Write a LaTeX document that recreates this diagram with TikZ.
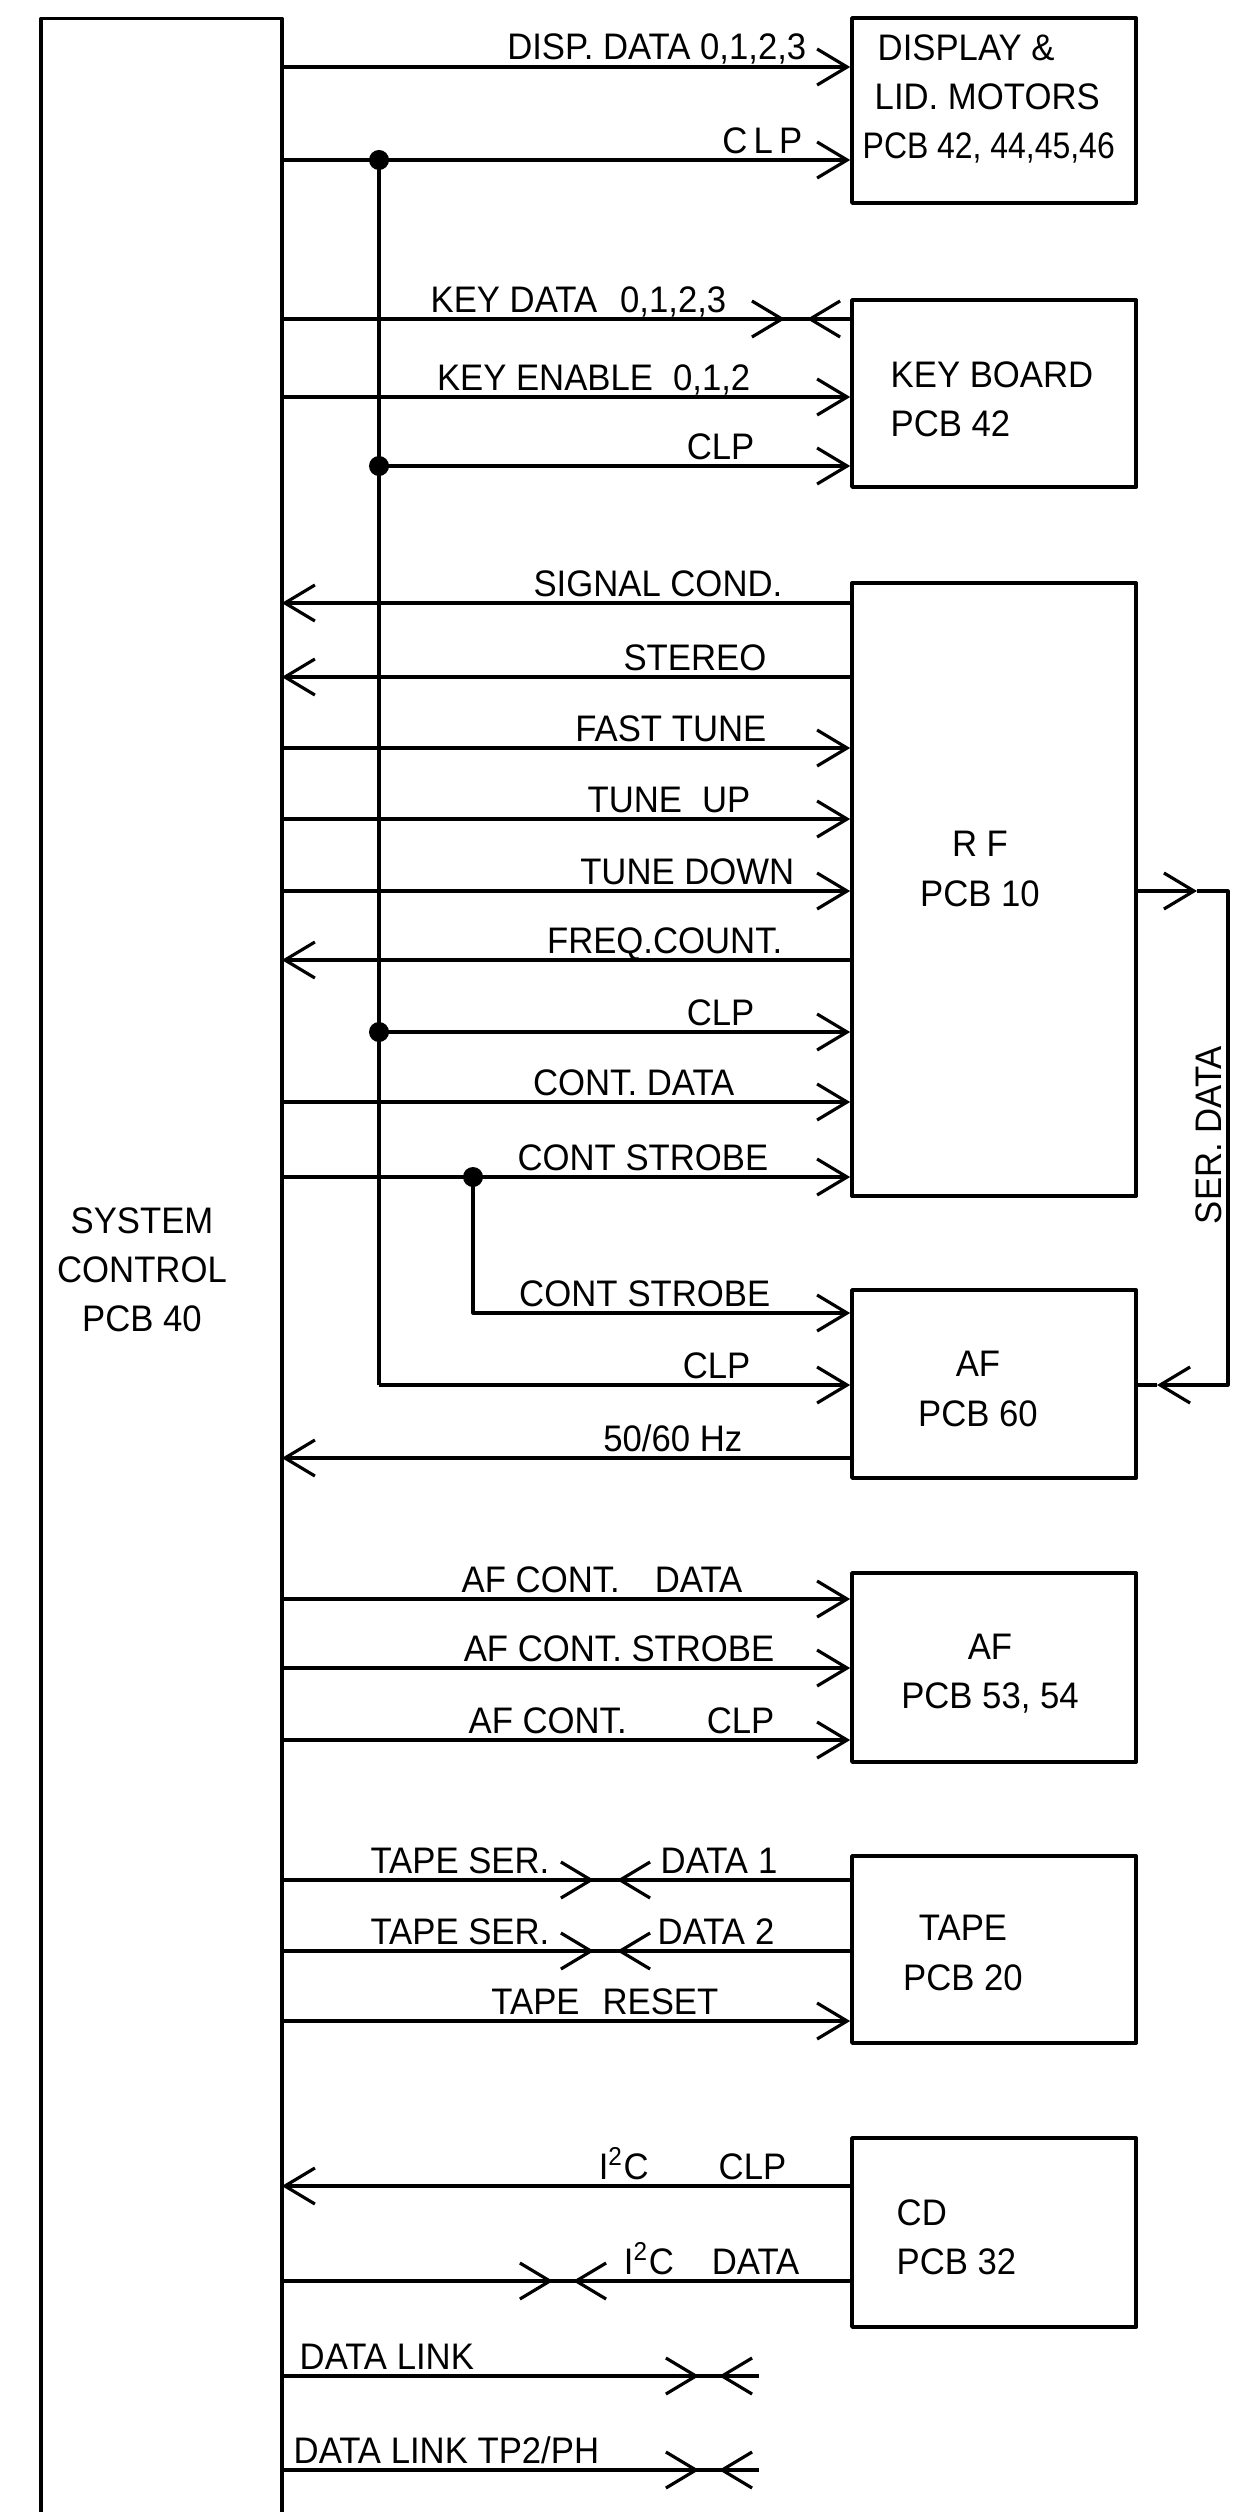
\documentclass[tikz,border=0pt]{standalone}
\usepackage{fontspec}
\setmainfont{Liberation Sans}[FakeStretch=0.94]
\usetikzlibrary{arrows.meta,calc,positioning}

\begin{document}
\begin{tikzpicture}[x=0.01cm,y=-0.01cm,line join=round,
    font=\fontsize{10.5}{14}\selectfont,
    >={Straight Barb[length=3mm,width=3.6mm]},
    wire/.style={line width=0.9pt},
    sig/.style={wire,->},
    pcb/.style={draw,line width=1pt,minimum width=2.84cm,inner sep=0pt},
    lbl/.style={inner sep=0pt},
    tap/.style={circle,fill,inner sep=0pt,minimum size=2mm}]

  \useasboundingbox (0,0) rectangle (1253,2512);

  % ---- boards ------------------------------------------------------------
  % system control runs off the bottom edge: three sides only
  \node[pcb,draw=none,minimum width=2.37cm,minimum height=24.91cm] (sys) at (161.5,1266.5) {};
  \draw[line width=1pt] (sys.south west) -- (sys.north west) -- (sys.north east) -- (sys.south east);
  \node[lbl,align=center] (systxt) at (142,1270) {SYSTEM\\CONTROL\\PCB 40};

  \node[pcb,minimum height=1.85cm] (disp) at (994,110.5) {};
  \node[pcb,minimum height=1.87cm] (key)  at (994,393.5) {};
  \node[pcb,minimum height=6.13cm] (rf)   at (994,889.5) {};
  \node[pcb,minimum height=1.88cm] (af60) at (994,1384) {};
  \node[pcb,minimum height=1.89cm] (af53) at (994,1667.5) {};
  \node[pcb,minimum height=1.87cm] (tape) at (994,1949.5) {};
  \node[pcb,minimum height=1.89cm] (cd)   at (994,2232.5) {};

  \node[lbl,align=left,anchor=west] (disptxt) at (862,99)
       {\hspace{1.5mm}DISPLAY \&\\\hspace{1.2mm}LID. MOTORS\\\scalebox{0.92}[1]{PCB 42, 44,45,46}};
  \node[lbl,align=left,anchor=west] (keytxt)  at (890,399) {KEY BOARD\\PCB 42};
  \node[lbl,align=center] (rftxt)   at (980,869)  {R F\\PCB 10};
  \node[lbl,align=center] (af60txt) at (978,1389) {AF\\PCB 60};
  \node[lbl,align=center] (af53txt) at (990,1674) {AF\\PCB 53, 54};
  \node[lbl,align=center] (tapetxt) at (963,1953) {TAPE\\PCB 20};
  \node[lbl,align=left,anchor=west] (cdtxt) at (896,2237) {CD\\PCB 32};

  % ---- signal rows -------------------------------------------------------
  \coordinate (dd)  at (0,67);    \coordinate (kd)  at (0,319);
  \coordinate (ke)  at (0,397);   \coordinate (sc)  at (0,603);
  \coordinate (st)  at (0,677);   \coordinate (ft)  at (0,748);
  \coordinate (tu)  at (0,819);   \coordinate (td)  at (0,891);
  \coordinate (fc)  at (0,960);   \coordinate (ctd) at (0,1102);
  \coordinate (hz)  at (0,1458);  \coordinate (acd) at (0,1599);
  \coordinate (acs) at (0,1668);  \coordinate (acc) at (0,1740);
  \coordinate (ts1) at (0,1880);  \coordinate (ts2) at (0,1951);
  \coordinate (tr)  at (0,2021);  \coordinate (icl) at (0,2186);
  \coordinate (ida) at (0,2281);
  % clock bus and strobe taps
  \coordinate (tapD) at (379,160);
  \coordinate (tapK) at (379,466);
  \coordinate (tapR) at (379,1032);
  \coordinate (tapA) at (379,1385);
  \coordinate (tapS) at (473,1177);
  \coordinate (tapT) at (473,1313);
  % plug joints  >--<
  \coordinate (kdA)  at (785,319);  \coordinate (kdB)  at (807,319);
  \coordinate (ts1A) at (594,1880); \coordinate (ts1B) at (617,1880);
  \coordinate (ts2A) at (594,1951); \coordinate (ts2B) at (617,1951);
  \coordinate (idaA) at (553,2281); \coordinate (idaB) at (573,2281);
  \coordinate (dl1A) at (699,2376); \coordinate (dl1B) at (719,2376);
  \coordinate (dl2A) at (699,2470); \coordinate (dl2B) at (719,2470);
  \coordinate (dl1E) at (759,2376); \coordinate (dl2E) at (759,2470);
  % serial data loop
  \coordinate (ser1) at (1197,891);  \coordinate (serA) at (1228,891);
  \coordinate (serB) at (1228,1385); \coordinate (ser2) at (1157,1385);

  % ---- display -----------------------------------------------------------
  \draw[sig] (sys.east |- dd) -- (disp.west |- dd);
  \draw[sig] (sys.east |- tapD) -- (disp.west |- tapD);
  \node[lbl,anchor=base east] (ddl) at (807,60) {DISP. DATA 0,1,2,3};
  \node[lbl,anchor=base east] (dcl) at (803,153) {C\,L\,P};

  % ---- key board ---------------------------------------------------------
  \draw[wire] (sys.east |- kd) -- (key.west |- kd);
  \draw[sig] (sys.east |- kd) -- (kdA);
  \draw[sig] (key.west |- kd) -- (kdB);
  \draw[sig] (sys.east |- ke) -- (key.west |- ke);
  \draw[sig] (tapK) -- (key.west |- tapK);
  \node[lbl,anchor=base east] (kdl) at (727,312) {KEY DATA\hspace{2.3mm}0,1,2,3};
  \node[lbl,anchor=base east] (kel) at (751,390) {KEY ENABLE\hspace{2mm}0,1,2};
  \node[lbl,anchor=base east] (kcl) at (755,459) {CLP};

  % ---- RF ----------------------------------------------------------------
  \draw[sig] (rf.west |- sc) -- (sys.east |- sc);
  \draw[sig] (rf.west |- st) -- (sys.east |- st);
  \draw[sig] (sys.east |- ft) -- (rf.west |- ft);
  \draw[sig] (sys.east |- tu) -- (rf.west |- tu);
  \draw[sig] (sys.east |- td) -- (rf.west |- td);
  \draw[sig] (rf.west |- fc) -- (sys.east |- fc);
  \draw[sig] (tapR) -- (rf.west |- tapR);
  \draw[sig] (sys.east |- ctd) -- (rf.west |- ctd);
  \draw[sig] (sys.east |- tapS) -- (rf.west |- tapS);
  \node[lbl,anchor=base east] (scl)  at (783,596)  {SIGNAL COND.};
  \node[lbl,anchor=base east] (stl)  at (767,670)  {STEREO};
  \node[lbl,anchor=base east] (ftl)  at (767,741)  {FAST TUNE};
  \node[lbl,anchor=base east] (tul)  at (751,812)  {TUNE\hspace{2mm}UP};
  \node[lbl,anchor=base east] (tdl)  at (795,884)  {TUNE DOWN};
  \node[lbl,anchor=base east] (fcl)  at (783,953)  {FREQ.COUNT.};
  \node[lbl,anchor=base east] (rcl)  at (755,1025) {CLP};
  \node[lbl,anchor=base east] (ctdl) at (735,1095) {CONT. DATA};
  \node[lbl,anchor=base east] (csl)  at (769,1170) {CONT STROBE};

  % ---- AF 60 -------------------------------------------------------------
  \draw[sig] (tapS) -- (tapT) -- (af60.west |- tapT);
  \draw[wire] (tapD) -- (tapA);
  \draw[sig] (tapA) -- (af60.west |- tapA);
  \draw[sig] (af60.west |- hz) -- (sys.east |- hz);
  \node[lbl,anchor=base east] (cs2l) at (771,1306) {CONT\hspace{1mm}STROBE};
  \node[lbl,anchor=base east] (acl)  at (751,1378) {CLP};
  \node[lbl,anchor=base east] (hzl)  at (743,1451) {50/60 Hz};
  \foreach \t in {tapD,tapK,tapR,tapS} \node[tap] at (\t) {};

  % ---- serial data RF -> AF ----------------------------------------------
  \draw[sig] (rf.east |- ser1) -- (ser1);
  \draw[sig] (ser1) -- (serA) -- (serB) -- (ser2);
  \draw[wire] (ser2) -- (af60.east |- ser2);
  \node[lbl,rotate=90,anchor=base] (serl) at (1221,1135) {SER. DATA};

  % ---- AF 53,54 ----------------------------------------------------------
  \draw[sig] (sys.east |- acd) -- (af53.west |- acd);
  \draw[sig] (sys.east |- acs) -- (af53.west |- acs);
  \draw[sig] (sys.east |- acc) -- (af53.west |- acc);
  \node[lbl,anchor=base east] (acdl) at (743,1592) {AF CONT.\hspace{3.5mm}DATA};
  \node[lbl,anchor=base east] (acsl) at (775,1661) {AF CONT. STROBE};
  \node[lbl,anchor=base east] (accl) at (775,1733) {AF CONT.\hspace{8mm}CLP};

  % ---- tape --------------------------------------------------------------
  \draw[wire] (sys.east |- ts1) -- (tape.west |- ts1);
  \draw[sig] (sys.east |- ts1) -- (ts1A);
  \draw[sig] (tape.west |- ts1) -- (ts1B);
  \draw[wire] (sys.east |- ts2) -- (tape.west |- ts2);
  \draw[sig] (sys.east |- ts2) -- (ts2A);
  \draw[sig] (tape.west |- ts2) -- (ts2B);
  \draw[sig] (sys.east |- tr) -- (tape.west |- tr);
  \node[lbl,anchor=base east] (ts1l) at (550,1873) {TAPE SER.};
  \node[lbl,anchor=base west] (d1l)  at (660,1873) {DATA\hspace{1mm}1};
  \node[lbl,anchor=base east] (ts2l) at (550,1944) {TAPE SER.};
  \node[lbl,anchor=base west] (d2l)  at (657,1944) {DATA\hspace{1mm}2};
  \node[lbl,anchor=base east] (trl)  at (719,2014) {TAPE\hspace{2.3mm}RESET};

  % ---- CD ----------------------------------------------------------------
  \draw[sig] (cd.west |- icl) -- (sys.east |- icl);
  \draw[wire] (sys.east |- ida) -- (cd.west |- ida);
  \draw[sig] (sys.east |- ida) -- (idaA);
  \draw[sig] (cd.west |- ida) -- (idaB);
  \node[lbl,anchor=base east] (icll) at (787,2179) {I\textsuperscript{2}C\hspace{7mm}CLP};
  \node[lbl,anchor=base east] (idal) at (800,2274) {I\textsuperscript{2}C\hspace{3.8mm}DATA};

  % ---- data links --------------------------------------------------------
  \draw[wire] (sys.east |- dl1A) -- (dl1E);
  \draw[sig] (sys.east |- dl1A) -- (dl1A);
  \draw[sig] (dl1E) -- (dl1B);
  \draw[wire] (sys.east |- dl2A) -- (dl2E);
  \draw[sig] (sys.east |- dl2A) -- (dl2A);
  \draw[sig] (dl2E) -- (dl2B);
  \node[lbl,anchor=base west] (dl1l) at (299,2369) {DATA LINK};
  \node[lbl,anchor=base west] (dl2l) at (293,2463) {DATA LINK TP2/PH};
\end{tikzpicture}
\end{document}
